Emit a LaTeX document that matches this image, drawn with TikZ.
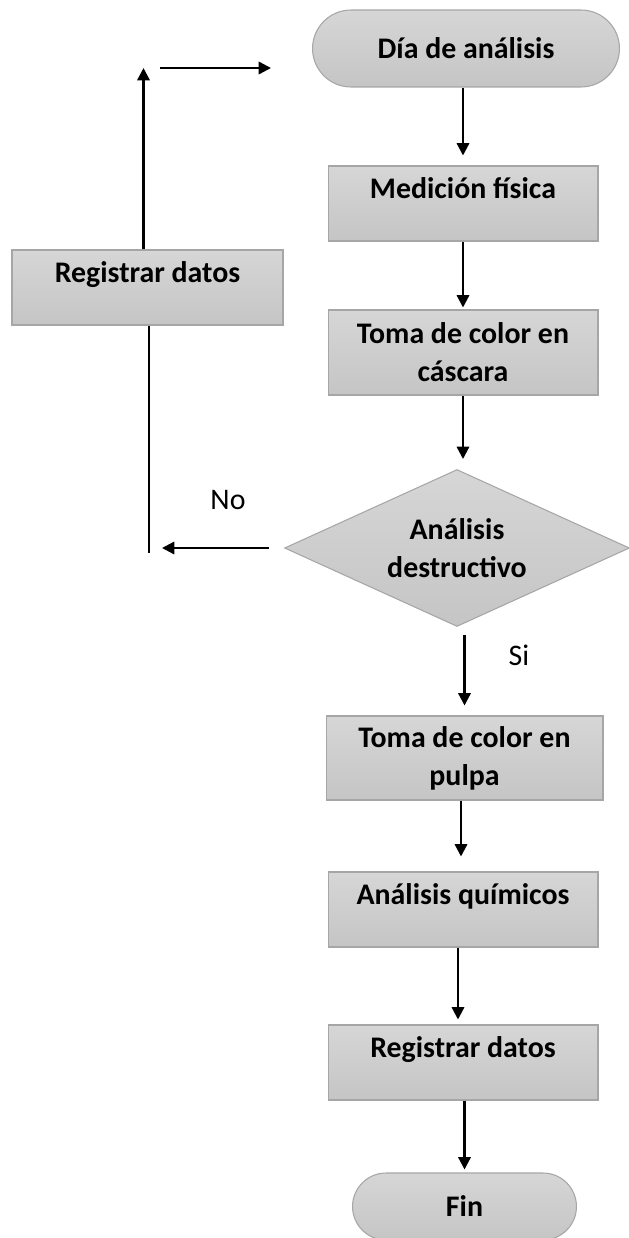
\documentclass[tikz,border=0pt]{standalone}
\usepackage{fontspec}
\setmainfont{Carlito}
\usetikzlibrary{arrows.meta,shapes.geometric,shapes.misc}
\definecolor{cajaarriba}{HTML}{D6D6D6}
\definecolor{cajaabajo}{HTML}{C5C5C5}
\definecolor{borde}{HTML}{A6A6A6}
\begin{document}
\begin{tikzpicture}[x=0.02cm,y=-0.02cm,
  caja/.style={draw=borde,line width=0.6pt,top color=cajaarriba,bottom color=cajaabajo,
    minimum width=5.4cm,minimum height=1.5cm,align=center,inner sep=2pt,
    font=\fontsize{17}{21.5}\selectfont\bfseries},
  cajauna/.style={caja,text height=0.4cm,text depth=0.62cm},
  term/.style={caja,rounded rectangle},
  decision/.style={caja,diamond,inner sep=-0.3cm},
  flecha/.style={line width=1.3pt,-{Triangle[width=7pt,length=7pt]}},
  linea/.style={line width=1.3pt},
  etiqueta/.style={font=\fontsize{17}{20}\selectfont}]
\useasboundingbox (0,0) rectangle (629,1238);
\node[term,minimum width=6.28cm,minimum height=1.54cm] (dia) at (466,48.5) {Día de análisis};
\node[cajauna] (med) at (463,203.5) {Medición física};
\node[caja,minimum height=1.7cm] (casc) at (463,352.5) {Toma de color en\\cáscara};
\node[decision,minimum width=6.9cm,minimum height=3.14cm] (dest) at (457,548) {Análisis\\destructivo};
\node[caja,minimum width=5.54cm,minimum height=1.68cm] (pulpa) at (464.5,758) {Toma de color en\\pulpa};
\node[cajauna] (quim) at (463,909.5) {Análisis químicos};
\node[cajauna] (reg) at (463,1062.5) {Registrar datos};
\node[term,minimum width=4.62cm,minimum height=1.34cm] (fin) at (464.5,1206.5) {Fin};
\node[cajauna,minimum width=5.42cm] (regizq) at (147.5,287.5) {Registrar datos};
\node[etiqueta] (no) at (228,500) {No};
\node[etiqueta] (si) at (519,655) {Si};
\coordinate (codo) at (149,553);
\coordinate (arriba) at (143.5,68);
% camino principal
\draw[flecha,shorten >=0.2cm] (dia.south -| med) -- (med.north);
\draw[flecha,shorten >=0.04cm] (med) -- (casc);
\draw[flecha,shorten >=0.2cm] (casc.south) -- (dest.north -| casc);
\draw[flecha,shorten <=0.16cm,shorten >=0.2cm] (dest.south -| pulpa) -- (pulpa.north);
\draw[flecha,shorten >=0.3cm] (pulpa.south -| 461,0) -- (quim.north -| 461,0);
\draw[flecha,shorten >=0.1cm] (quim.south -| 458,0) -- (reg.north -| 458,0);
\draw[flecha,shorten >=0.06cm] (reg.south -| fin) -- (fin.north);
% rama del no
\draw[flecha,shorten <=0.3cm,shorten >=0.26cm] (dest.west) -- (dest.west -| codo);
\draw[linea] (regizq.south -| codo) -- (codo);
\draw[flecha] (regizq.north -| arriba) -- (arriba);
\draw[flecha,shorten <=0.34cm,shorten >=0.82cm] (arriba) -- (arriba -| dia.west);
\end{tikzpicture}
\end{document}
